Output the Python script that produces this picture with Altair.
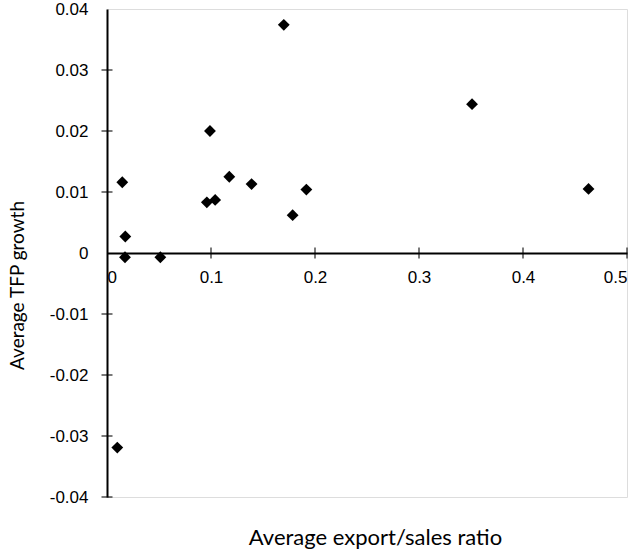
import altair as alt
import pandas as pd

export_ratio = [0.170, 0.099, 0.0147, 0.0176, 0.0173, 0.0513, 0.096, 0.104, 0.1176, 0.139, 0.1785, 0.1917, 0.351, 0.463, 0.0099]
tfp_growth = [0.0374, 0.0200, 0.0116, 0.0027, -0.0007, -0.0007, 0.0083, 0.0087, 0.0125, 0.0113, 0.0062, 0.0104, 0.0244, 0.0105, -0.0319]

x_ticks = [0.1, 0.2, 0.3, 0.4, 0.5]
y_ticks = [0.03, 0.02, 0.01, -0.01, -0.02, -0.03, -0.04]

df = pd.DataFrame({"x": export_ratio, "y": tfp_growth})
xt = pd.DataFrame({"x": x_ticks, "y": [0.0] * len(x_ticks)})
yt = pd.DataFrame({"x": [0.0] * len(y_ticks), "y": y_ticks})

label_font = "Liberation Sans"
title_font = "Lato"

xscale = alt.Scale(domain=[0, 0.5], nice=False, zero=False)
yscale = alt.Scale(domain=[-0.04, 0.04], nice=False, zero=False)

xaxis = alt.Axis(
    title="Average export/sales ratio",
    values=[0, 0.1, 0.2, 0.3, 0.4, 0.5],
    labelExpr="datum.value == 0 ? '0' : format(datum.value, '.1f')",
    offset=-244,
    domain=True, domainColor="black", domainWidth=2,
    ticks=False, grid=False,
    labelPadding=16, labelFont=label_font, labelFontSize=17, labelColor="black",
    titleFont=title_font, titleFontSize=22, titleFontWeight="normal", titleColor="black",
    titleBaseline="middle", titleY=284, titleX=268,
)
yaxis = alt.Axis(
    title="Average TFP growth",
    values=[0.04, 0.03, 0.02, 0.01, 0, -0.01, -0.02, -0.03, -0.04],
    labelExpr="datum.value == 0 ? '0' : (datum.value < 0 ? '-' + format(-datum.value, '.2f') : format(datum.value, '.2f'))",
    domain=True, domainColor="black", domainWidth=2,
    ticks=False, grid=False,
    labelPadding=19, labelFont=label_font, labelFontSize=17, labelColor="black",
    titleFont=title_font, titleFontSize=19, titleFontWeight="normal", titleColor="black",
    titleBaseline="middle", titleX=-90, titleY=276,
)

points = alt.Chart(df).mark_point(shape="diamond", filled=True, color="black", opacity=1, size=140).encode(
    x=alt.X("x:Q", scale=xscale, axis=xaxis),
    y=alt.Y("y:Q", scale=yscale, axis=yaxis),
)

xtick_layer = alt.Chart(xt).mark_tick(color="black", orient="vertical", size=11, thickness=1.5).encode(
    x=alt.X("x:Q", scale=xscale),
    y=alt.Y("y:Q", scale=yscale),
)
ytick_layer = alt.Chart(yt).mark_tick(color="black", orient="horizontal", size=11, thickness=1.5).encode(
    x=alt.X("x:Q", scale=xscale),
    y=alt.Y("y:Q", scale=yscale),
)

chart = alt.layer(xtick_layer, ytick_layer, points).properties(
    width=520, height=488,
    autosize=alt.AutoSizeParams(type="none"),
    padding={"left": 107, "top": 9, "right": 11, "bottom": 54},
).configure_view(stroke="#555555", strokeWidth=1).configure(background="white")

chart.save("out.html", embed_options={"renderer": "svg", "actions": False})
